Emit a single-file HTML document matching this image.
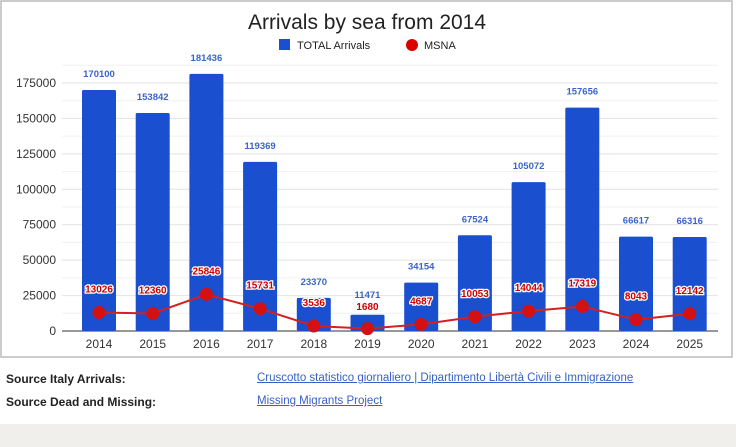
<!DOCTYPE html>
<html><head><style>
body{margin:0;width:736px;height:447px;background:#f0efeb;font-family:"Liberation Sans",sans-serif;overflow:hidden}
</style></head><body>
<svg width="736" height="447" xmlns="http://www.w3.org/2000/svg" style="position:absolute;left:0;top:0">
<rect x="0" y="0" width="736" height="424" fill="#fff"/>
<rect x="1" y="1" width="731" height="356" fill="#fff" stroke="#bbb" stroke-width="1.5"/>
<text x="367" y="29" font-size="21" text-anchor="middle" fill="#222">Arrivals by sea from 2014</text>
<rect x="279" y="39" width="11" height="11" fill="#1a4fd0"/>
<text x="297" y="49" font-size="11" fill="#222">TOTAL Arrivals</text>
<circle cx="412" cy="45" r="6" fill="#d00"/>
<text x="424" y="49" font-size="11" fill="#222">MSNA</text>
</svg>
<div style="position:absolute;left:6px;top:372px;font-size:12px;font-weight:bold;color:#222">Source Italy Arrivals:</div>
<div style="position:absolute;left:6px;top:395px;font-size:12px;font-weight:bold;color:#222">Source Dead and Missing:</div>
<div style="position:absolute;left:257px;top:372px;font-size:11.5px;color:#3b5fc4;text-decoration:underline">Cruscotto statistico giornaliero | Dipartimento Libertà Civili e Immigrazione</div>
<div style="position:absolute;left:257px;top:395px;font-size:11.5px;color:#3b5fc4;text-decoration:underline">Missing Migrants Project</div>
<script>
const ns="http://www.w3.org/2000/svg",s=document.querySelector('svg');
function el(t,a,txt){const e=document.createElementNS(ns,t);for(const k in a)e.setAttribute(k,a[k]);if(txt!=null)e.textContent=txt;s.appendChild(e);return e;}
const Y=v=>331-v*248/175000;
for(let v=0;v<=187500;v+=12500){const y=Y(v);el('line',{x1:62,x2:718,y1:y,y2:y,stroke:v%25000?'#f0f0f0':'#e2e2e2','stroke-width':1});
 if(v%25000==0)el('text',{x:56,y:y+4,'font-size':12,'text-anchor':'end',fill:'#333'},v);}
el('line',{x1:62,x2:718,y1:331,y2:331,stroke:'#777','stroke-width':1.5});
const A=[170100,153842,181436,119369,23370,11471,34154,67524,105072,157656,66617,66316];
const M=[13026,12360,25846,15731,3536,1680,4687,10053,14044,17319,8043,12142];
let pts=[];
A.forEach((a,i)=>{const cx=99+i*53.7;
 el('rect',{x:cx-17,y:Y(a),width:34,height:331-Y(a),fill:'#1a4fd0',rx:1.5});
 let ly=i==5?298:Y(a)-13;
 el('text',{x:cx,y:ly,'font-size':9.5,'font-weight':'bold','text-anchor':'middle',fill:'#3a64c8'},a);
 el('text',{x:cx,y:348,'font-size':12,'text-anchor':'middle',fill:'#333'},2014+i);
 pts.push(cx+','+Y(M[i]));});
el('polyline',{points:pts.join(' '),fill:'none',stroke:'#d42020','stroke-width':2});
M.forEach((m,i)=>{const cx=99+i*53.7,y=Y(m);
 el('circle',{cx:cx,cy:y,r:6.5,fill:'#d41010'});
 let ly=i==5?310:y-20;
 el('text',{x:cx,y:ly,'font-size':10,'font-weight':'bold','text-anchor':'middle',fill:'#c00',stroke:'#fff','stroke-width':2.5,'paint-order':'stroke'},m);});
</script>
</body></html>
